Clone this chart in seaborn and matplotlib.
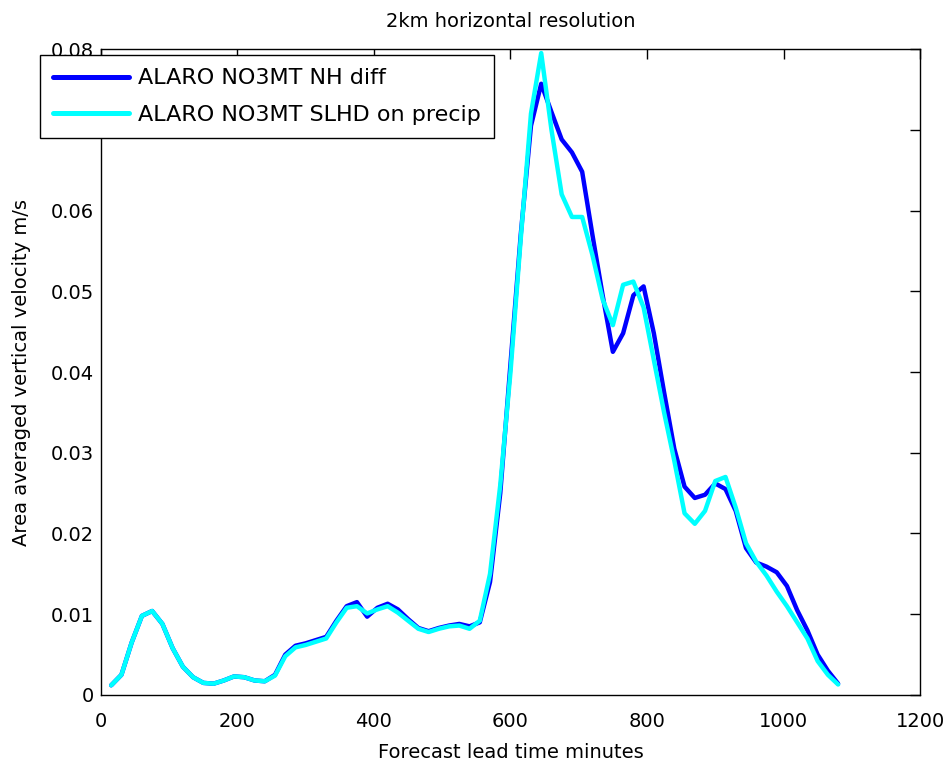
import numpy as np
import pandas as pd
import matplotlib
matplotlib.use("Agg")
import matplotlib.pyplot as plt
import seaborn as sns

# forecast lead time (minutes), output every 15 minutes
lead_time = list(range(15, 1081, 15))

# area averaged vertical velocity (m/s)
nh_diff = [
    0.0012, 0.0025, 0.0065, 0.0098, 0.0104, 0.0088, 0.0058, 0.0035, 0.0022, 0.0015,
    0.0014, 0.0018, 0.0023, 0.0022, 0.0018, 0.0017, 0.0025, 0.0050, 0.0061, 0.0064,
    0.0068, 0.0072, 0.0092, 0.0110, 0.0115, 0.0097, 0.0108, 0.0113, 0.0106, 0.0094,
    0.0083, 0.0079, 0.0083, 0.0086, 0.0088, 0.0085, 0.0090, 0.0140, 0.0250, 0.0410,
    0.0570, 0.0705, 0.0757, 0.0722, 0.0688, 0.0672, 0.0648, 0.0570, 0.0495, 0.0425,
    0.0448, 0.0495, 0.0506, 0.0448, 0.0375, 0.0305, 0.0258, 0.0244, 0.0248, 0.0262,
    0.0255, 0.0228, 0.0182, 0.0164, 0.0159, 0.0152, 0.0135, 0.0105, 0.0080, 0.0050,
    0.0030, 0.0014,
]
slhd_precip = [
    0.0012, 0.0025, 0.0065, 0.0098, 0.0104, 0.0088, 0.0058, 0.0035, 0.0022, 0.0015,
    0.0014, 0.0018, 0.0023, 0.0022, 0.0018, 0.0017, 0.0024, 0.0048, 0.0059, 0.0062,
    0.0066, 0.0070, 0.0090, 0.0108, 0.0110, 0.0101, 0.0106, 0.0110, 0.0102, 0.0092,
    0.0082, 0.0078, 0.0082, 0.0085, 0.0086, 0.0082, 0.0092, 0.0150, 0.0260, 0.0400,
    0.0565, 0.0720, 0.0795, 0.0700, 0.0620, 0.0592, 0.0592, 0.0545, 0.0490, 0.0458,
    0.0508, 0.0512, 0.0480, 0.0415, 0.0350, 0.0290, 0.0225, 0.0212, 0.0228, 0.0265,
    0.0270, 0.0232, 0.0188, 0.0165, 0.0148, 0.0128, 0.0110, 0.0090, 0.0070, 0.0042,
    0.0025, 0.0013,
]
series_names = ["ALARO NO3MT NH diff", "ALARO NO3MT SLHD on precip"]
series_colors = ["#0000ff", "#00ffff"]

x_ticks = [0, 200, 400, 600, 800, 1000, 1200]
y_ticks = [0, 0.01, 0.02, 0.03, 0.04, 0.05, 0.06, 0.07, 0.08]
y_tick_labels = ["0", "0.01", "0.02", "0.03", "0.04", "0.05", "0.06", "0.07", "0.08"]

df = pd.concat([
    pd.DataFrame({"minutes": lead_time, "w": nh_diff, "run": series_names[0]}),
    pd.DataFrame({"minutes": lead_time, "w": slhd_precip, "run": series_names[1]}),
])

sns.set_style("white")
plt.rcParams["font.family"] = ["DejaVu Sans"]
plt.rcParams["text.color"] = "black"
plt.rcParams["axes.labelcolor"] = "black"

fig = plt.figure(figsize=(9.48, 7.66), dpi=100)
ax = fig.add_axes([0.1065, 0.0927, 0.864, 0.8433])

sns.lineplot(data=df, x="minutes", y="w", hue="run", hue_order=series_names,
             palette=series_colors, linewidth=3.2, ax=ax, sort=False)

ax.set_xlim(0, 1200)
ax.set_ylim(0, 0.08)
ax.set_xticks(x_ticks)
ax.set_yticks(y_ticks)
ax.set_yticklabels(y_tick_labels)
ax.tick_params(direction="in", top=True, right=True, length=7, width=1,
               labelsize=14, colors="black")
ax.tick_params(axis="x", pad=12)
ax.tick_params(axis="y", pad=5)
for s in ax.spines.values():
    s.set_color("black")
    s.set_linewidth(1)

ax.set_xlabel("Forecast lead time minutes", fontsize=14, labelpad=9)
ax.set_ylabel("Area averaged vertical velocity m/s", fontsize=14, labelpad=14)
ax.set_title("2km horizontal resolution", fontsize=14, pad=16)

leg = ax.legend(loc="upper left", bbox_to_anchor=(0.042, 0.928),
                bbox_transform=fig.transFigure, fontsize=16, frameon=True,
                fancybox=False, edgecolor="black", framealpha=1,
                handlelength=3.4, handletextpad=0.4, borderpad=0.6,
                labelspacing=0.75, borderaxespad=0)
leg.get_frame().set_linewidth(1)
for line in leg.get_lines():
    line.set_linewidth(3.6)

fig.savefig("out.png", dpi=100)
